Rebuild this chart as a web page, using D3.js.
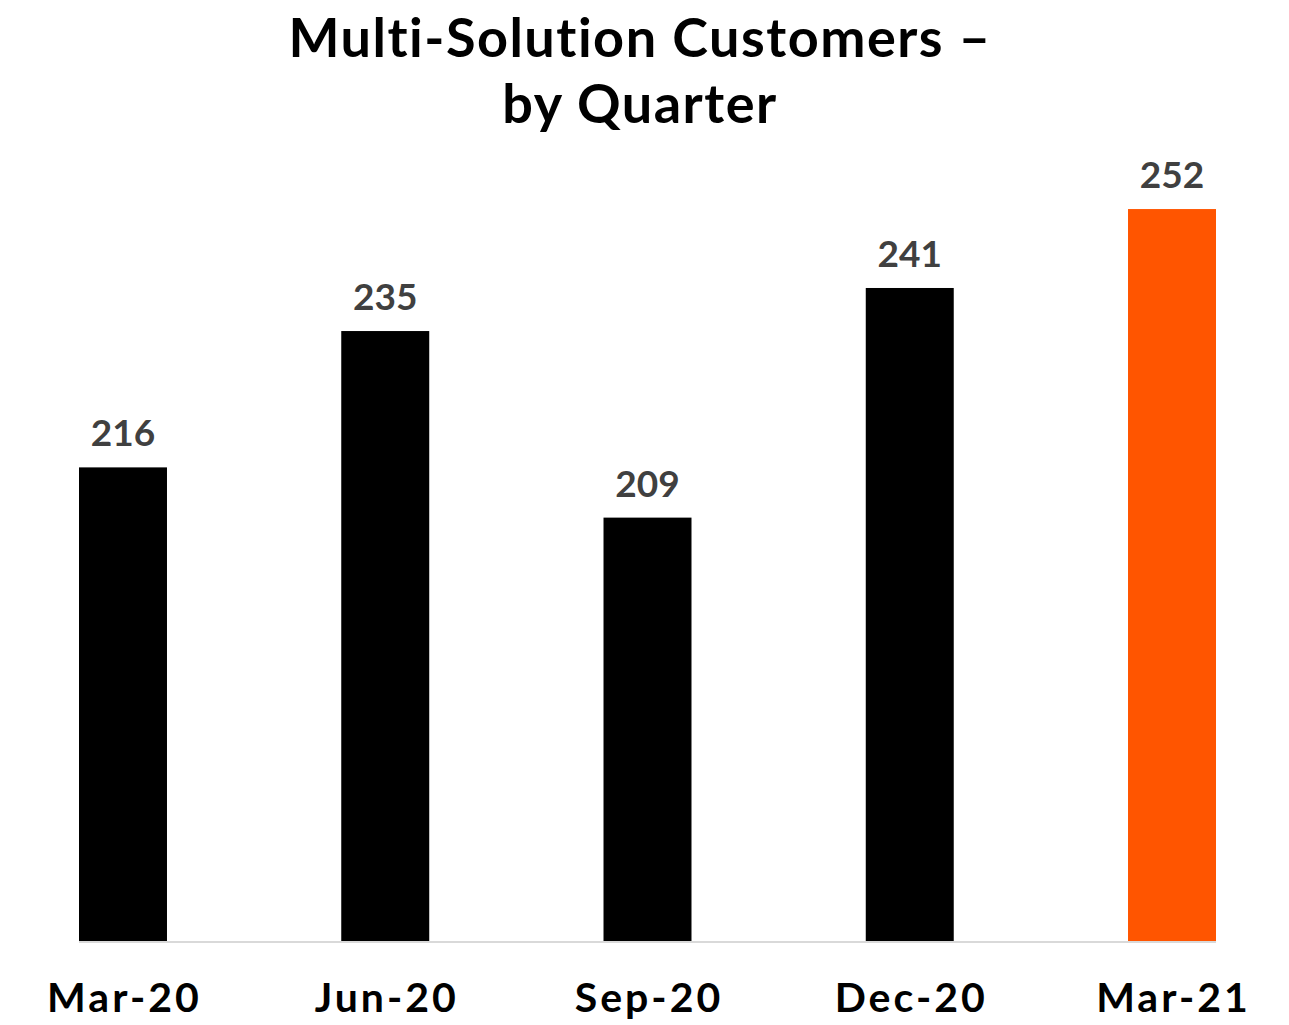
<!DOCTYPE html>
<html>
<head>
    <meta charset="utf-8">
    <title>Multi-Solution Customers</title>
    <script src="https://d3js.org/d3.v7.min.js"></script>
    <style>
        body { margin: 0; background: #fff; }
        text { font-family: Lato, "Open Sans", sans-serif; font-weight: 700; font-variant-ligatures: none; }
    </style>
</head>
<body>
    <div id="chart"></div>
    <script>
        // data
        var quarters = ["Mar-20", "Jun-20", "Sep-20", "Dec-20", "Mar-21"];
        var customers = [216, 235, 209, 241, 252];
        var titleLines = ["Multi-Solution Customers \u2013", "by Quarter"];

        var width = 1289, height = 1025;
        var baseY = 941;

        var svg = d3.select("#chart")
            .append("svg")
            .attr("width", width)
            .attr("height", height);

        var x = d3.scaleBand()
            .domain(quarters)
            .range([79, 1216])
            .paddingInner(0.6645)
            .paddingOuter(0);

        // axis doesn't start at zero in the original
        var y = d3.scaleLinear()
            .domain([150, 260])
            .range([baseY, baseY - 110 * 7.176]);

        // title
        svg.append("g").selectAll("text")
            .data(titleLines)
            .enter()
            .append("text")
            .attr("x", 640)
            .attr("y", function(d, i) { return 57 + i * 66; })
            .attr("text-anchor", "middle")
            .style("font-size", "54px")
            .style("letter-spacing", "1.5px")
            .attr("fill", "#000")
            .text(function(d) { return d; });

        var data = quarters.map(function(q, i) { return {q: q, v: customers[i], last: i == quarters.length - 1}; });

        svg.append("g").selectAll("rect")
            .data(data)
            .enter()
            .append("rect")
            .attr("x", function(d) { return x(d.q); })
            .attr("y", function(d) { return y(d.v); })
            .attr("width", x.bandwidth())
            .attr("height", function(d) { return baseY - y(d.v); })
            .attr("fill", function(d) { return d.last ? "#ff5500" : "#000"; });

        // baseline
        svg.append("line")
            .attr("x1", 79).attr("x2", 1216)
            .attr("y1", baseY + 1).attr("y2", baseY + 1)
            .attr("stroke", "#d9d9d9")
            .attr("stroke-width", 2);

        // value labels
        svg.append("g").selectAll("text")
            .data(data)
            .enter()
            .append("text")
            .attr("x", function(d) { return x(d.q) + x.bandwidth() / 2; })
            .attr("y", function(d) { return y(d.v) - 21; })
            .attr("text-anchor", "middle")
            .style("font-size", "37px")
            .attr("fill", "#404040")
            .text(function(d) { return d.v; });

        // category labels
        var xAxis = svg.append("g")
            .attr("transform", "translate(0," + baseY + ")")
            .call(d3.axisBottom(x).tickSize(0).tickPadding(0));
        xAxis.select(".domain").remove();
        xAxis.selectAll("text")
            .attr("dy", null)
            .attr("y", 71)
            .attr("dx", 1.5)
            .attr("fill", "#000")
            .style("font-size", "41px")
            .style("letter-spacing", "3px")
            .style("font-family", "Lato, sans-serif")
            .style("font-weight", "700");
    </script>
</body>
</html>
